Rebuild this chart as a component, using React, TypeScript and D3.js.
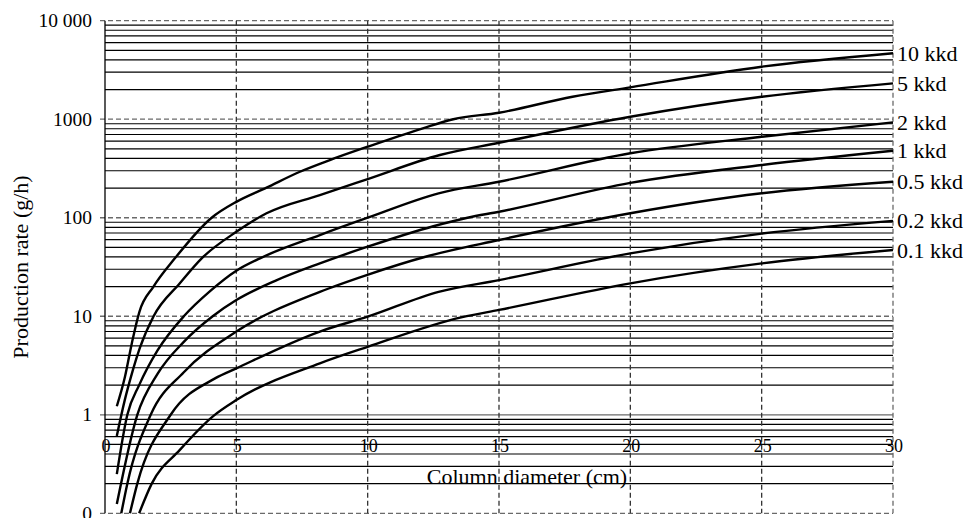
import React from "react";
import * as d3 from "d3";

type Pt = [number, number];

// Column diameter (cm) / production rate (g/h) pairs
const kkd10: Pt[] = [[0.45,1.22],[0.76,2.43],[1.02,5.3],[1.31,11.1],[1.84,19.9],[2.66,38.7],[4.06,100],[5,145],[6.15,202],[7.42,293],[8.56,385],[10,526],[12.1,809],[13.26,1000],[15,1164],[17.8,1692],[20,2108],[25,3412],[30,4670]];
const kkd5: Pt[] = [[0.45,0.61],[0.75,1.4],[1.02,2.6],[1.33,4.8],[1.84,9.9],[2.85,21.6],[3.68,38.7],[5,72],[6.15,111],[8.18,170],[10,247],[12.75,433],[15,577],[20,1060],[25,1692],[30,2314]];
const kkd2: Pt[] = [[0.45,0.25],[0.85,1.0],[1.3,2.0],[2,4.5],[3,10],[4,18],[5,29],[5.9,38.7],[8.18,66.7],[10,100],[12.7,177],[15,232],[20,451],[25,664],[30,930]];
const kkd1: Pt[] = [[0.45,0.124],[1.23,1.0],[2,2.6],[3,5.5],[4.1,10],[5,14.6],[6.5,23],[8.18,34.4],[10,50.8],[12.5,82],[13.8,100],[15,115],[20,226],[25,343],[30,479]];
const kkd05: Pt[] = [[0.62,0.1],[0.85,0.2],[1.74,1.0],[3,2.7],[5,7.0],[8.18,17.7],[9.96,26.2],[12.2,40.2],[15,59.4],[20,111],[25,177],[30,232]];
const kkd02: Pt[] = [[0.95,0.1],[1.23,0.2],[2.5,1.0],[4.19,2.34],[5,2.96],[8.18,7.0],[10,9.9],[12.7,17.7],[15,23.3],[20,43.5],[25,69],[30,93]];
const kkd01: Pt[] = [[1.3,0.1],[1.78,0.2],[2.85,0.44],[4.12,0.97],[5,1.41],[8.18,3.33],[10,4.9],[13.6,9.8],[15,11.6],[20,21.6],[25,34.4],[30,47]];

const seriesData: Pt[][] = [kkd10, kkd5, kkd2, kkd1, kkd05, kkd02, kkd01];
const seriesLabels: string[] = ["10 kkd", "5 kkd", "2 kkd", "1 kkd", "0.5 kkd", "0.2 kkd", "0.1 kkd"];

const xTicks: number[] = [0, 5, 10, 15, 20, 25, 30];
const yDecades: number[] = [0.1, 1, 10, 100, 1000, 10000];
const yTickLabels: string[] = ["0", "1", "10", "100", "1000", "10 000"];
const minorMultipliers: number[] = [2, 3, 4, 5, 6, 7, 8, 9];

const W = 971, H = 518;
const FONT = "'Liberation Serif', 'Times New Roman', serif";

export default function App() {
  const x = d3.scaleLinear().domain([0, 30]).range([105, 893]);
  const y = d3.scaleLog().domain([0.1, 10000]).range([513.3, 20.7]);
  const [x0, x1] = x.range();
  const line = d3.line<Pt>().x(d => x(d[0])).y(d => y(d[1])).curve(d3.curveMonotoneX);

  const minors: number[] = [];
  yDecades.slice(0, -1).forEach(dec => minorMultipliers.forEach(m => minors.push(dec * m)));

  return (
    <svg width={W} height={H} style={{ position: "absolute", left: 0, top: 0, background: "#fff" }}
      fontFamily={FONT}>
      {/* minor horizontal grid */}
      {minors.map((v, i) => (
        <line key={"mi" + i} x1={x0} x2={x1} y1={y(v)} y2={y(v)} stroke="#000" strokeWidth={1.2} />
      ))}
      {/* decade lines */}
      {yDecades.map((v, i) => (
        <line key={"dec" + i} x1={x0 - 5} x2={x1} y1={y(v)} y2={y(v)}
          stroke="#6a6a6a" strokeWidth={1.3} strokeDasharray={v === 1 ? undefined : "5,3"} />
      ))}
      {/* vertical grid */}
      {xTicks.map((t, i) => (
        t === 0 ? (
          <line key={"v" + i} x1={x(t)} x2={x(t)} y1={y(10000)} y2={y(0.1)} stroke="#000" strokeWidth={1.3} />
        ) : (
          <line key={"v" + i} x1={x(t)} x2={x(t)} y1={y(10000)} y2={y(0.1)}
            stroke={t === 30 ? "#6a6a6a" : "#333"} strokeWidth={1.3} strokeDasharray="5,3" />
        )
      ))}
      {/* curves */}
      {seriesData.map((s, i) => (
        <path key={"c" + i} d={line(s) || ""} fill="none" stroke="#000" strokeWidth={2.4} />
      ))}
      {/* curve labels */}
      {seriesData.map((s, i) => (
        <text key={"l" + i} x={897} y={y(s[s.length - 1][1])} dy="0.34em" fontSize={22} fill="#000">
          {seriesLabels[i]}
        </text>
      ))}
      {/* y tick labels */}
      {yDecades.map((v, i) => (
        <text key={"yt" + i} x={92} y={y(v)} dy="0.34em" textAnchor="end" fontSize={19.5} fill="#000">
          {yTickLabels[i]}
        </text>
      ))}
      {/* x tick labels */}
      {xTicks.map((t, i) => (
        <text key={"xt" + i} x={x(t) + 1} y={452} textAnchor="middle" fontSize={18} fill="#000">
          {t}
        </text>
      ))}
      {/* axis titles */}
      <text x={527} y={484} textAnchor="middle" fontSize={22} fill="#000">Column diameter (cm)</text>
      <text transform="translate(27.5,267) rotate(-90)" textAnchor="middle" fontSize={22} fill="#000">
        Production rate (g/h)
      </text>
    </svg>
  );
}
